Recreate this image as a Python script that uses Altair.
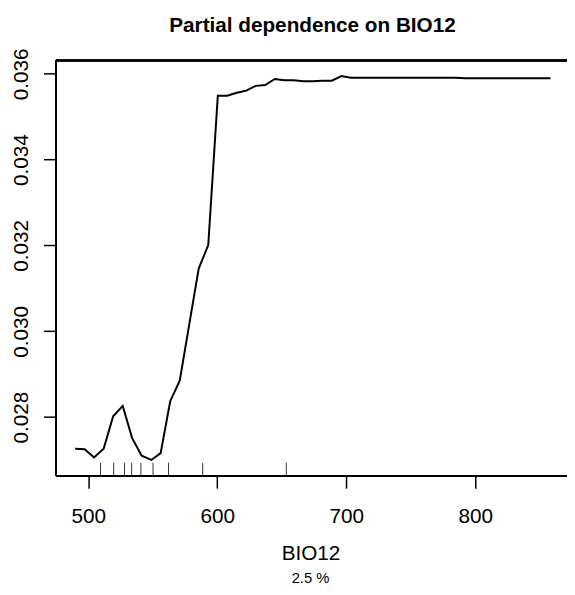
import altair as alt
import pandas as pd

# x grid (BIO12) and partial dependence values
bio12 = [489.8, 497.2, 504.5, 511.9, 519.3, 526.7, 534.0, 541.4, 548.8, 556.1,
         563.5, 570.9, 578.2, 585.6, 593.0, 600.4, 607.7, 615.1, 622.5, 629.8,
         637.2, 644.6, 651.9, 659.3, 666.7, 674.1, 681.4, 688.8, 696.2, 703.5,
         710.9, 718.3, 725.6, 733.0, 740.4, 747.8, 755.1, 762.5, 769.9, 777.2,
         784.6, 792.0, 799.3, 806.7, 814.1, 821.5, 828.8, 836.2, 843.6, 850.9,
         858.3]
pdep = [0.02726, 0.02725, 0.02706, 0.02726, 0.02802, 0.02826, 0.02751, 0.02710, 0.02700, 0.02716,
        0.02837, 0.02885, 0.03015, 0.03146, 0.03201, 0.03549, 0.03549, 0.03556, 0.03561, 0.03572,
        0.03574, 0.03588, 0.03585, 0.03585, 0.03583, 0.03583, 0.03584, 0.03584, 0.03595, 0.03591,
        0.03591, 0.03591, 0.03591, 0.03591, 0.03591, 0.03591, 0.03591, 0.03591, 0.03591, 0.03591,
        0.03591, 0.03590, 0.03590, 0.03590, 0.03590, 0.03590, 0.03590, 0.03590, 0.03590, 0.03590,
        0.03590]
rug = [509.5, 519.7, 528.1, 533.6, 540.8, 550.2, 562.2, 588.7, 653.5]
x_ticks = [500, 600, 700, 800]
y_ticks = [0.028, 0.030, 0.032, 0.034, 0.036]
title_text = "Partial dependence on BIO12"
x_label = "BIO12"
sub_text = "2.5 %"

W, H = 518, 421
FONT = "Liberation Sans"

line_df = pd.DataFrame({"x": bio12, "y": pdep})
rug_df = pd.DataFrame({"x": rug})

xscale = alt.Scale(domain=[475.0, 871.1], nice=False, zero=False)
yscale = alt.Scale(domain=[0.02663, 0.03631], nice=False, zero=False)

xaxis = alt.Axis(values=x_ticks, format="d", title=x_label, domain=False, grid=False,
                 tickColor="black", tickWidth=1.5, tickSize=12.5,
                 labelColor="black", labelFont=FONT, labelFontSize=21, labelPadding=17.7,
                 labelFlush=False, labelOverlap=False,
                 titleFont=FONT, titleFontSize=21, titleFontWeight="normal", titleColor="black",
                 titleX=258, titleY=84.4, titleBaseline="alphabetic", titleAlign="center")
yaxis = alt.Axis(values=y_ticks, format=".3f", title=None, domain=False, grid=False,
                 tickColor="black", tickWidth=1.5, tickSize=12.7,
                 labelColor="black", labelFont=FONT, labelFontSize=21, labelPadding=12.6,
                 labelAngle=-90, labelAlign="center", labelBaseline="bottom",
                 labelFlush=False, labelOverlap=False)

line = alt.Chart(line_df).mark_line(color="black", strokeWidth=2).encode(
    x=alt.X("x:Q", scale=xscale, axis=xaxis),
    y=alt.Y("y:Q", scale=yscale, axis=yaxis),
)

rugs = alt.Chart(rug_df).mark_rule(color="#333333", strokeWidth=1).encode(
    x=alt.X("x:Q", scale=xscale),
    y=alt.value(H - 13.3),
    y2=alt.value(H),
)

box_left = alt.Chart(rug_df).mark_rule(color="black", strokeWidth=1.5).encode(
    x=alt.value(0), y=alt.value(0), y2=alt.value(H))
box_top = alt.Chart(rug_df).mark_rule(color="black", strokeWidth=1.5).encode(
    x=alt.value(0), x2=alt.value(W + 10), y=alt.value(0))
box_bottom = alt.Chart(rug_df).mark_rule(color="black", strokeWidth=1.5).encode(
    x=alt.value(0), x2=alt.value(W + 10), y=alt.value(H))

title = alt.Chart(pd.DataFrame({"t": [title_text]})).mark_text(
    font=FONT, fontSize=21, fontWeight="bold", color="black",
    align="center", baseline="alphabetic").encode(
    text="t:N", x=alt.value(260), y=alt.value(-29))

sub = alt.Chart(pd.DataFrame({"t": [sub_text]})).mark_text(
    font=FONT, fontSize=15, color="black",
    align="center", baseline="alphabetic").encode(
    text="t:N", x=alt.value(258), y=alt.value(530))

chart = alt.layer(box_left, box_top, box_bottom, rugs, line, title, sub).properties(
    width=W, height=H,
    autosize=alt.AutoSizeParams(type="none"),
    padding={"left": 48.7, "top": 49.3, "right": 0, "bottom": 110},
).configure_view(stroke=None).configure(background="white")

chart.save("out.html", embed_options={"renderer": "svg", "actions": False})
